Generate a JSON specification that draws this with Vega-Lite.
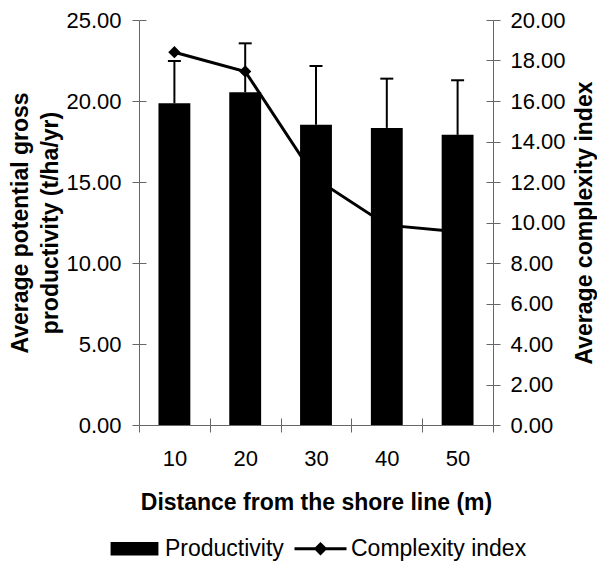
{
  "$schema": "https://vega.github.io/schema/vega-lite/v6.json",
  "width": 354,
  "height": 405,
  "padding": {"left": 9, "top": 9, "right": 0, "bottom": 0},
  "config": {
    "font": "Liberation Sans",
    "view": {"stroke": null},
    "axis": {
      "grid": false,
      "labelFont": "Liberation Sans",
      "labelFontSize": 22,
      "labelColor": "black",
      "titleFont": "Liberation Sans",
      "titleFontSize": 23,
      "titleFontWeight": "bold",
      "titleColor": "black",
      "domainColor": "#666666",
      "tickColor": "#666666",
      "tickSize": 7,
      "domainWidth": 1,
      "tickWidth": 1
    },
    "legend": {"labelFont": "Liberation Sans", "labelFontSize": 23, "labelColor": "black", "labelLimit": 0}
  },
  "data": {
    "values": [
      {"d": "10", "prod": 19.86, "high": 22.47, "cx": 18.41},
      {"d": "20", "prod": 20.54, "high": 23.56, "cx": 17.46},
      {"d": "30", "prod": 18.53, "high": 22.16, "cx": 12.15},
      {"d": "40", "prod": 18.34, "high": 21.38, "cx": 9.87},
      {"d": "50", "prod": 17.91, "high": 21.28, "cx": 9.54}
    ]
  },
  "layer": [
    {
      "mark": {"type": "bar", "width": {"band": 0.45}},
      "encoding": {
        "x": {
          "field": "d", "type": "ordinal",
          "scale": {"paddingInner": 0, "paddingOuter": 0},
          "axis": {"orient": "bottom", "title": "Distance from the shore line (m)", "labelAngle": 0, "tickBand": "extent", "labelPadding": 16, "titlePadding": 22}
        },
        "y": {
          "field": "prod", "type": "quantitative",
          "scale": {"domain": [0, 25], "nice": false},
          "axis": {"orient": "left", "values": [0, 5, 10, 15, 20, 25], "format": ".2f", "labelPadding": 11, "title": ["Average potential gross", "productivity (t/ha/yr)"], "titlePadding": 3, "titleLineHeight": 30}
        },
        "color": {
          "datum": "Productivity",
          "scale": {"domain": ["Productivity", "Complexity index"], "range": ["black", "black"]},
          "legend": {
            "orient": "none", "legendX": -16, "legendY": 517,
            "direction": "horizontal", "title": null,
            "symbolSize": 2704, "labelOffset": 19, "columnPadding": 4,
            "symbolType": "square",
            "encode": {
              "symbols": {
                "update": {
                  "shape": {"signal": "datum.value == 'Productivity' ? 'M-0.92,-0.26H0.92V0.26H-0.92Z' : 'M-1,0H1M0,-0.18L0.18,0L0,0.18L-0.18,0Z'"},
                  "size": {"value": 2704},
                  "fill": {"value": "black"},
                  "stroke": {"value": "black"},
                  "strokeWidth": {"signal": "datum.value == 'Productivity' ? 0 : 3"},
                  "opacity": {"value": 1}
                }
              }
            }
          }
        }
      }
    },
    {
      "mark": {"type": "rule", "color": "black", "strokeWidth": 2},
      "encoding": {
        "x": {
          "field": "d", "type": "ordinal",
          "scale": {"paddingInner": 0, "paddingOuter": 0},
          "axis": {"orient": "bottom", "offset": -7, "tickBand": "extent", "domain": false, "labels": false, "title": null}
        },
        "y": {
          "field": "prod", "type": "quantitative",
          "scale": {"domain": [0, 25], "nice": false},
          "axis": {"orient": "left", "offset": -7, "values": [0, 5, 10, 15, 20, 25], "domain": false, "labels": false, "title": null}
        },
        "y2": {"field": "high"}
      }
    },
    {
      "mark": {"type": "tick", "color": "black", "thickness": 2, "size": 13, "opacity": 1},
      "encoding": {
        "x": {"field": "d", "type": "ordinal", "scale": {"paddingInner": 0, "paddingOuter": 0}, "axis": null},
        "y": {"field": "high", "type": "quantitative", "scale": {"domain": [0, 25], "nice": false}, "axis": null}
      }
    },
    {
      "mark": {"type": "line", "color": "black", "strokeWidth": 3},
      "encoding": {
        "x": {"field": "d", "type": "ordinal", "scale": {"paddingInner": 0, "paddingOuter": 0}, "axis": null},
        "y": {
          "field": "cx", "type": "quantitative",
          "scale": {"domain": [0, 20], "nice": false},
          "axis": {"orient": "right", "values": [0, 2, 4, 6, 8, 10, 12, 14, 16, 18, 20], "format": ".2f", "labelPadding": 10, "title": "Average complexity index", "titleAngle": -90, "titleBaseline": "top", "titlePadding": 8}
        }
      }
    },
    {
      "mark": {"type": "point", "shape": "diamond", "filled": true, "color": "black", "size": 150, "opacity": 1},
      "encoding": {
        "x": {"field": "d", "type": "ordinal", "scale": {"paddingInner": 0, "paddingOuter": 0}, "axis": null},
        "y": {
          "field": "cx", "type": "quantitative",
          "scale": {"domain": [0, 20], "nice": false},
          "axis": {"orient": "right", "offset": -7, "values": [0, 2, 4, 6, 8, 10, 12, 14, 16, 18, 20], "domain": false, "labels": false, "title": null}
        }
      }
    }
  ],
  "resolve": {"scale": {"x": "independent", "y": "independent"}}
}
